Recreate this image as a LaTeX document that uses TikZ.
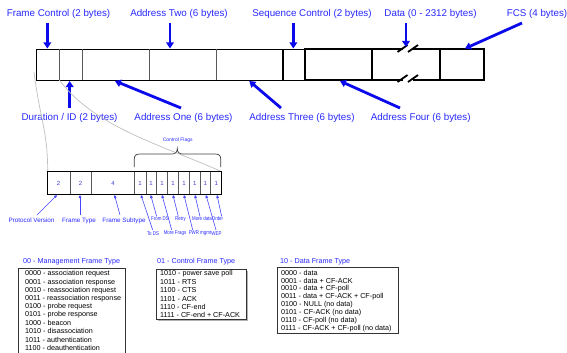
\documentclass[tikz,border=0pt]{standalone}
\usepackage{fontspec}
\setmainfont{Liberation Sans}
\newfontfamily\condfont[FakeStretch=0.8]{Liberation Sans}
\usetikzlibrary{arrows.meta}
\definecolor{lblue}{RGB}{40,40,255}
\definecolor{ablue}{RGB}{10,10,235}
\definecolor{sblue}{RGB}{70,70,255}
\definecolor{dblue}{RGB}{60,60,210}
\begin{document}
\begin{tikzpicture}[x=1pt,y=-1pt,
  toplabel/.style={text=lblue,font=\fontsize{9.8}{11}\selectfont,inner sep=0pt},
  bigarrow/.style={draw=ablue,line width=2.8pt,-{Triangle[length=6pt,width=7.5pt]}},
  smallarrow/.style={draw=sblue,line width=0.6pt,-{Triangle[length=3pt,width=2.8pt]}},
  smlabel/.style={text=lblue,font=\fontsize{6.3}{7}\selectfont,inner sep=0pt},
  flaglabel/.style={text=lblue,font=\condfont\fontsize{5.5}{6}\selectfont,inner sep=0pt},
  bitnum/.style={text=dblue,font=\fontsize{6}{7}\selectfont,inner sep=0pt},
  thinbox/.style={draw=black,line width=0.9pt},
  divider/.style={draw=black!65,line width=0.9pt},
  thickbox/.style={draw=black,line width=2.2pt},
  guide/.style={draw=black!25,line width=0.7pt},
  bracestyle/.style={draw=black!75,line width=0.7pt},
  tabtitle/.style={text=lblue,font=\fontsize{7.2}{8}\selectfont,inner sep=0pt,anchor=west},
  tabline/.style={text=black,font=\fontsize{7.2}{8}\selectfont,inner sep=0pt,anchor=west},
  tabbox/.style={draw=black!80,line width=0.8pt},
  shadowline/.style={draw=black!30,line width=1.2pt}
]
\useasboundingbox (0,0) rectangle (567,353);

% ---------- top frame ----------
\draw[thinbox] (36.7,49.3) rectangle (305,80);
\foreach \x in {59.3,82,149,216.3} \draw[divider] (\x,49.3) -- (\x,80);
\draw[draw=black,line width=2pt] (283.3,49.3) -- (283.3,80);
\draw[thickbox] (305,49.3) rectangle (484,80);
\draw[thickbox] (372.3,49.3) -- (372.3,80);
\draw[thickbox] (439.7,49.3) -- (439.7,80);
% break marks in data field
\fill[white] (402.5,46) rectangle (413,52.5);
\fill[white] (402.5,77) rectangle (413,83.5);
\foreach \x in {402.5,413} {
  \draw[draw=black,line width=1.8pt] (\x-5,52) -- (\x+5,45);
  \draw[draw=black,line width=1.8pt] (\x-5,82) -- (\x+5,75);
}

% top labels
\node[toplabel] (fcl)  at (58.5,14) {Frame Control (2 bytes)};
\node[toplabel] (a2l)  at (179,14) {Address Two (6 bytes)};
\node[toplabel] (scl)  at (312,14) {Sequence Control (2 bytes)};
\node[toplabel] (dl)   at (430.5,14) {Data (0 - 2312 bytes)};
\node[toplabel] (fcsl) at (537,14) {FCS (4 bytes)};
\node[toplabel] (durl) at (69.5,118) {Duration / ID (2 bytes)};
\node[toplabel] (a1l)  at (183.5,118) {Address One (6 bytes)};
\node[toplabel] (a3l)  at (302,118) {Address Three (6 bytes)};
\node[toplabel] (a4l)  at (420.7,118) {Address Four (6 bytes)};

% arrow end points
\coordinate (fcs) at (47.3,23);   \coordinate (fce) at (47.3,48.5);
\coordinate (a2s) at (170,23);    \coordinate (a2e) at (170,48.5);
\coordinate (scs) at (293.3,23);  \coordinate (sce) at (293.3,48.5);
\coordinate (ds)  at (406,23);    \coordinate (de)  at (406,47);
\coordinate (fcss) at (522,23);   \coordinate (fcse) at (465,48.5);
\coordinate (durs) at (69.7,108); \coordinate (dure) at (69.7,81);
\coordinate (a1s) at (181,108);   \coordinate (a1e) at (115,81);
\coordinate (a3s) at (281,108);   \coordinate (a3e) at (249.3,81);
\coordinate (a4s) at (400,108);   \coordinate (a4e) at (340,81);
\draw[bigarrow] (fcs) -- (fce);
\draw[bigarrow] (a2s) -- (a2e);
\draw[bigarrow] (scs) -- (sce);
\draw[bigarrow] (ds) -- (de);
\draw[bigarrow] (fcss) -- (fcse);
\draw[bigarrow] (durs) -- (dure);
\draw[bigarrow] (a1s) -- (a1e);
\draw[bigarrow] (a3s) -- (a3e);
\draw[bigarrow] (a4s) -- (a4e);

% ---------- guide curves ----------
\coordinate (gl1) at (34,72);  \coordinate (gl2) at (47.7,171.7);
\coordinate (gr1) at (59.3,80); \coordinate (gr2) at (221.7,171.7);
\draw[guide] (gl1) .. controls (40,120) and (47.7,130) .. (gl2);
\draw[guide] (gr1) .. controls (95,128) and (165,146) .. (gr2);

% ---------- frame control bits ----------
\draw[thinbox] (47.7,171.7) rectangle (221.7,194);
\foreach \x in {70,91,134.3,146,156.7,167.7,178.3,189.3,200,210.7}
  \draw[divider] (\x,171.7) -- (\x,194);
\node[bitnum] (b1) at (58.5,183) {2};
\node[bitnum] (b2) at (80.5,183) {2};
\node[bitnum] (b3) at (113,183) {4};
\foreach \x/\n in {140/f1,151/f2,162/f3,173/f4,184/f5,194.7/f6,205.3/f7,216.2/f8}
  \node[bitnum] (\n) at (\x,183) {1};

% brace and Control Flags
\draw[bracestyle] (134.3,167) -- (134.3,159) .. controls (134.3,155.5) and (136,154) .. (140,154)
  -- (172,154) .. controls (175.5,154) and (177.3,152) .. (177.3,148.5)
  .. controls (177.3,152) and (179,154) .. (182.5,154)
  -- (215,154) .. controls (219,154) and (220.7,155.5) .. (220.7,159) -- (220.7,167);
\node[text=lblue,font=\fontsize{5}{6}\selectfont,inner sep=0pt] (cfl) at (177.7,140.5) {Control Flags};

% lower labels
\node[smlabel] (pvl) at (31.5,220.5) {Protocol Version};
\node[smlabel] (ftl) at (79,220.5) {Frame Type};
\node[smlabel] (fsl) at (124,220.5) {Frame Subtype};
\node[flaglabel] (fromds) at (160,219) {From DS};
\node[flaglabel] (retry)  at (180.5,219) {Retry};
\node[flaglabel] (mdata)  at (202,219) {More data};
\node[flaglabel] (order)  at (217.5,219) {Order};
\node[flaglabel] (tods)   at (153,233.5) {To DS};
\node[flaglabel] (mfrag)  at (175,233.5) {More Frags};
\node[flaglabel] (pwr)    at (200,233.5) {PWR mgmt};
\node[flaglabel] (wep)    at (216.5,233.5) {WEP};

\coordinate (pvs) at (37,215);    \coordinate (pve) at (57,195);
\coordinate (fts) at (80,215);    \coordinate (fte) at (80,195);
\coordinate (fss) at (120,215);   \coordinate (fse) at (114.5,195);
\draw[smallarrow] (pvs) -- (pve);
\draw[smallarrow] (fts) -- (fte);
\draw[smallarrow] (fss) -- (fse);
\foreach \sx/\sy/\ex in {152.7/230/141, 156.7/216.5/150.7, 171.7/230/162, 178.3/216.5/173,
                         192.7/230/184, 200/216.5/195, 216/230/206, 221.7/216.5/217}
  \draw[smallarrow] (\sx,\sy) -- (\ex,195);

% ---------- tables ----------
% management
\node[tabtitle] (mt) at (23,262) {00 - Management Frame Type};
\draw[tabbox] (18,353) -- (18,268.3) -- (125,268.3) -- (125,353);
\foreach \i/\t in {0/{0000 - association request},1/{0001 - association response},
  2/{0010 - reassociation request},3/{0011 - reassociation response},
  4/{0100 - probe request},5/{0101 - probe response},6/{1000 - beacon},
  7/{1010 - disassociation},8/{1011 - authentication},9/{1100 - deauthentication}}
  \node[tabline] (m\i) at (25,274+8.2*\i) {\t};

% control
\node[tabtitle] (ct) at (157,262) {01 - Control Frame Type};
\draw[shadowline] (157.5,320) -- (247,320) -- (247,270.5);
\draw[tabbox] (156,269) rectangle (246,319);
\foreach \i/\t in {0/{1010 - power save poll},1/{1011 - RTS},2/{1100 - CTS},
  3/{1101 - ACK},4/{1110 - CF-end},5/{1111 - CF-end + CF-ACK}}
  \node[tabline] (c\i) at (160,274+8.2*\i) {\t};

% data
\node[tabtitle] (dt) at (280,262) {10 - Data Frame Type};
\draw[tabbox] (277,267) rectangle (398,333);
\foreach \i/\t in {0/{0000 - data},1/{0001 - data + CF-ACK},2/{0010 - data + CF-poll},
  3/{0011 - data + CF-ACK + CF-poll},4/{0100 - NULL (no data)},5/{0101 - CF-ACK (no data)},
  6/{0110 - CF-poll (no data)},7/{0111 - CF-ACK + CF-poll (no data)}}
  \node[tabline] (d\i) at (281,272.7+8.05*\i) {\t};
\end{tikzpicture}
\end{document}
